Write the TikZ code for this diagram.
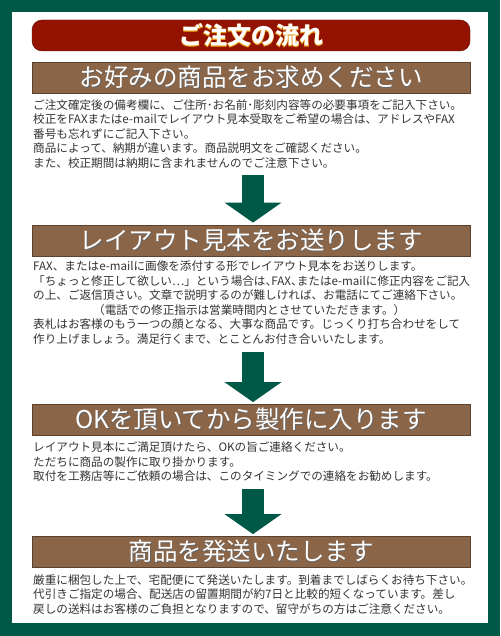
\documentclass[tikz,border=0pt]{standalone}
\usepackage{fontspec}
\setmainfont{Noto Sans CJK JP}
\newfontfamily\glowfont{Noto Sans CJK JP}[FakeBold=2.5, BoldFeatures={FakeBold=2.5}]
\usetikzlibrary{arrows.meta,positioning}
\definecolor{framegreen}{HTML}{005846}
\definecolor{titlered}{HTML}{941200}
\definecolor{barbrown}{HTML}{8B6548}
\definecolor{bodygray}{HTML}{333333}
\definecolor{titleglow}{HTML}{E89A10}
\newcommand{\glowtext}[1]{\makebox[0pt][l]{\glowfont\bfseries\textcolor{titleglow}{#1}}#1}
\newcommand{\shadowtext}[1]{\makebox[0pt][l]{\hspace{0.9pt}\raisebox{-0.9pt}{\textcolor{black!60}{#1}}}#1}
\newcommand{\halfcomma}{\makebox[0.5em][l]{、}}

\begin{document}
\begin{tikzpicture}[x=1pt, y=-1pt,
  headbar/.style = {fill = titlered, draw = titlered!60!black, rounded corners = 10pt, minimum width = 438pt, minimum height = 31pt, inner sep = 0pt, text = white, font = \fontsize{24}{24}\selectfont\bfseries},
  stepbar/.style = {fill = barbrown, draw = barbrown!65!black, line width = 0.8pt, minimum width = 438pt, minimum height = 31pt, inner sep = 0pt, text = white, font = \fontsize{24.5}{24.5}\selectfont},
  bodytext/.style = {anchor = north west, inner sep = 0pt, align = left, text = bodygray, font = \fontsize{11.6}{14.5}\selectfont},
  flow/.style = {draw = framegreen, line width = 22pt, -{Triangle[width = 57pt, length = 20pt, line width = 0pt]}}]
\useasboundingbox (0,0) rectangle (500,636);
\fill[framegreen] (0,0) rectangle (500,636);
\fill[white] (12,12) rectangle (488,623);

\node[headbar] (title) at (251,35.5) {\glowtext{ご注文の流れ}};

\node[stepbar] (bar1) at (251,77.5) {\shadowtext{お好みの商品をお求めください}};
\node[bodytext] (body1) at (33,99) {ご注文確定後の備考欄に、ご住所･お名前･彫刻内容等の必要事項をご記入下さい。\\
校正をFAXまたはe-mailでレイアウト見本受取をご希望の場合は、アドレスやFAX\\
番号も忘れずにご記入下さい。\\
商品によって、納期が違います。商品説明文をご確認ください。\\
また、校正期間は納期に含まれませんのでご注意下さい。};

\node[stepbar] (bar2) at (251,240.5) {\shadowtext{レイアウト見本をお送りします}};
\node[bodytext] (body2) at (33,261) {FAX、またはe-mailに画像を添付する形でレイアウト見本をお送りします。\\
「ちょっと修正して欲しい…」という場合は\halfcomma FAX\halfcomma またはe-mailに修正内容をご記入\\
の上、ご返信頂さい。文章で説明するのが難しければ、お電話にてご連絡下さい。\\
\hspace*{60pt}（電話での修正指示は営業時間内とさせていただきます。）\\
表札はお客様のもう一つの顔となる、大事な商品です。じっくり打ち合わせをして\\
作り上げましょう。満足行くまで、とことんお付き合いいたします。};

\node[stepbar] (bar3) at (251,420) {\shadowtext{OKを頂いてから製作に入ります}};
\node[bodytext] (body3) at (33,442) {レイアウト見本にご満足頂けたら、OKの旨ご連絡ください。\\
ただちに商品の製作に取り掛かります。\\
取付を工務店等にご依頼の場合は、このタイミングでの連絡をお勧めします。};

\node[stepbar] (bar4) at (251,552) {\shadowtext{商品を発送いたします}};
\node[bodytext] (body4) at (33,574) {厳重に梱包した上で、宅配便にて発送いたします。到着までしばらくお待ち下さい。\\
代引きご指定の場合、配送店の留置期間が約7日と比較的短くなっています。差し\\
戻しの送料はお客様のご負担となりますので、留守がちの方はご注意ください。};

% arrows between the steps
\draw[flow] ([xshift=2pt,yshift=-7pt]bar2.north |- body1.south) -- ([xshift=2pt,yshift=2pt]bar2.north);
\draw[flow] ([xshift=2pt,yshift=-7pt]bar3.north |- body2.south) -- ([xshift=2pt,yshift=2pt]bar3.north);
\draw[flow] ([xshift=2pt,yshift=-7pt]bar4.north |- body3.south) -- ([xshift=2pt,yshift=2pt]bar4.north);
\end{tikzpicture}
\end{document}
